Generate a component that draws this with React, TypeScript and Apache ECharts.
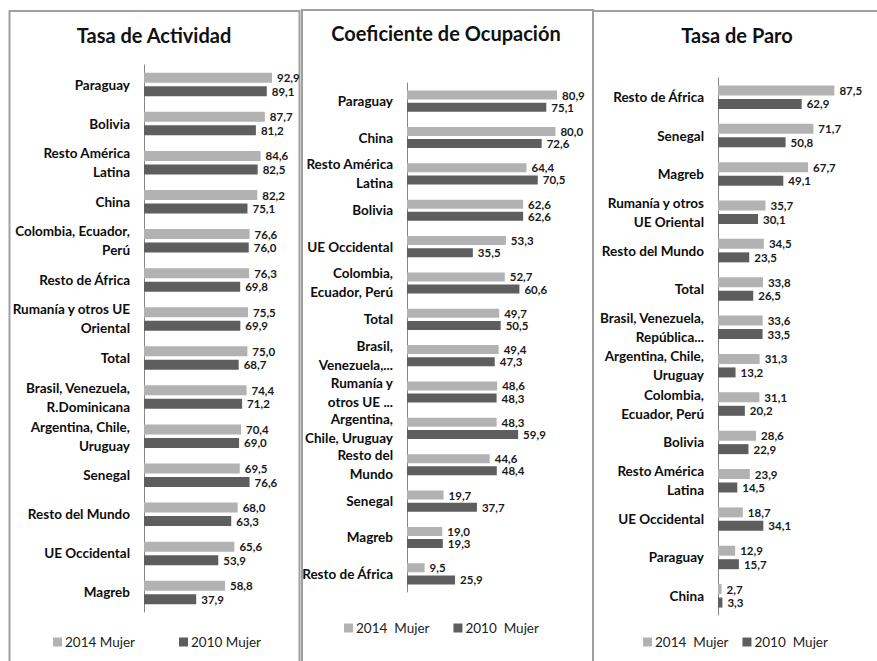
import React, { useEffect, useRef } from "react";
import * as echarts from "echarts";

const titles = ["Tasa de Actividad", "Coeficiente de Ocupación", "Tasa de Paro"];

const catsActividad = [
  "Paraguay", "Bolivia", "Resto América\nLatina", "China", "Colombia, Ecuador,\nPerú",
  "Resto de África", "Rumanía y otros UE\nOriental", "Total", "Brasil, Venezuela,\nR.Dominicana",
  "Argentina, Chile,\nUruguay", "Senegal", "Resto del Mundo", "UE Occidental", "Magreb",
];
const act2014 = [92.9, 87.7, 84.6, 82.2, 76.6, 76.3, 75.5, 75.0, 74.4, 70.4, 69.5, 68.0, 65.6, 58.8];
const act2010 = [89.1, 81.2, 82.5, 75.1, 76.0, 69.8, 69.9, 68.7, 71.2, 69.0, 76.6, 63.3, 53.9, 37.9];

const catsOcupacion = [
  "Paraguay", "China", "Resto América\nLatina", "Bolivia", "UE Occidental", "Colombia,\nEcuador, Perú",
  "Total", "Brasil,\nVenezuela,...", "Rumanía y\notros UE ...", "Argentina,\nChile, Uruguay",
  "Resto del\nMundo", "Senegal", "Magreb", "Resto de África",
];
const ocu2014 = [80.9, 80.0, 64.4, 62.6, 53.3, 52.7, 49.7, 49.4, 48.6, 48.3, 44.6, 19.7, 19.0, 9.5];
const ocu2010 = [75.1, 72.6, 70.5, 62.6, 35.5, 60.6, 50.5, 47.3, 48.3, 59.9, 48.4, 37.7, 19.3, 25.9];

const catsParo = [
  "Resto de África", "Senegal", "Magreb", "Rumanía y otros\nUE Oriental", "Resto del Mundo", "Total",
  "Brasil, Venezuela,\nRepública...", "Argentina, Chile,\nUruguay", "Colombia,\nEcuador, Perú", "Bolivia",
  "Resto América\nLatina", "UE Occidental", "Paraguay", "China",
];
const paro2014 = [87.5, 71.7, 67.7, 35.7, 34.5, 33.8, 33.6, 31.3, 31.1, 28.6, 23.9, 18.7, 12.9, 2.7];
const paro2010 = [62.9, 50.8, 49.1, 30.1, 23.5, 26.5, 33.5, 13.2, 20.2, 22.9, 14.5, 34.1, 15.7, 3.3];

const legendA = ["2014 Mujer", "2010 Mujer"];
const legendB = ["2014  Mujer", "2010  Mujer"];

const LIGHT = "#b2b2b2";
const DARK = "#5e5e5e";
const FONT = "Lato, 'Open Sans', sans-serif";

export default function App() {
  const ref = useRef<HTMLDivElement>(null);
  useEffect(() => {
    if (!ref.current) return;
    const chart = echarts.init(ref.current, null, { renderer: "svg" });

    const grids = [
      { left: 144, top: 65, width: 137.8, height: 547 },
      { left: 407, top: 83, width: 185.5, height: 509 },
      { left: 718, top: 78, width: 133, height: 537 },
    ];
    const cats = [catsActividad, catsOcupacion, catsParo];
    const d14 = [act2014, ocu2014, paro2014];
    const d10 = [act2010, ocu2010, paro2010];
    const names = [legendA, legendB, legendB];
    const barW = [10, 9, 10];

    const fmt = (p: any) => Number(p.value).toFixed(1).replace(".", ",");
    const lbl = {
      show: true,
      position: "right",
      distance: 5,
      fontSize: 11.5,
      lineHeight: 12,
      fontWeight: "bold",
      fontFamily: FONT,
      color: "#1a1a1a",
      formatter: fmt,
    };

    const series: any[] = [];
    for (let i = 0; i < 3; i++) {
      series.push({
        type: "bar",
        name: names[i][0],
        xAxisIndex: i,
        yAxisIndex: i,
        data: d14[i],
        barWidth: barW[i],
        barGap: "35%",
        itemStyle: { color: LIGHT },
        label: lbl,
      });
      series.push({
        type: "bar",
        name: names[i][1],
        xAxisIndex: i,
        yAxisIndex: i,
        data: d10[i],
        barWidth: barW[i],
        barGap: "35%",
        itemStyle: { color: DARK },
        label: lbl,
      });
    }

    const borderStyle = { stroke: "#a0a0a0", lineWidth: 2 };
    const line = (pts: number[][]) => ({ type: "polyline", shape: { points: pts }, style: borderStyle, silent: true });

    const titlePos = [[154, 35], [446, 33], [737, 35]];
    const legText = { fontSize: 13.5, fontFamily: FONT, color: "#222", padding: [0, 0, 0, -2] };

    chart.setOption({
      animation: false,
      textStyle: { fontFamily: FONT },
      grid: grids.map((g) => ({ ...g, containLabel: false })),
      xAxis: grids.map((_, i) => ({
        type: "value",
        gridIndex: i,
        min: 0,
        max: 100,
        show: false,
        splitLine: { show: false },
      })),
      yAxis: grids.map((_, i) => ({
        type: "category",
        gridIndex: i,
        inverse: true,
        data: cats[i],
        axisLine: { show: true, lineStyle: { color: "#868686", width: 1 } },
        axisTick: { show: false },
        axisLabel: {
          margin: 14,
          fontSize: 13.5,
          fontWeight: "bold",
          fontFamily: FONT,
          color: "#0d0d0d",
          lineHeight: 19,
          align: "right",
          interval: 0,
        },
      })),
      legend: [
        { data: legendA, left: 48, top: 630, itemWidth: 9, itemHeight: 9, itemGap: 44, icon: "rect",
          textStyle: legText, selectedMode: false },
        { data: legendB, left: 339, top: 616, itemWidth: 9, itemHeight: 9, itemGap: 24, icon: "rect",
          textStyle: legText, selectedMode: false },
        { data: legendB, left: 638, top: 630, itemWidth: 9, itemHeight: 9, itemGap: 14, icon: "rect",
          textStyle: legText, selectedMode: false },
      ],
      graphic: [
        line([[9.5, 661], [9.5, 11], [299.5, 11], [299.5, 661]]),
        line([[302, 661], [302, 10], [593, 10], [593, 661]]),
        line([[593, 11], [877, 11]]),
        ...titles.map((t, i) => ({
          type: "text",
          x: titlePos[i][0],
          y: titlePos[i][1],
          style: {
            text: t,
            fontSize: 20,
            fontWeight: "bold",
            fontFamily: FONT,
            fill: "#111",
            textAlign: "center",
            textVerticalAlign: "middle",
          },
        })),
      ],
      series,
    });
    return () => chart.dispose();
  }, []);
  return (
    <div
      ref={ref}
      style={{ position: "fixed", left: 0, top: 0, width: 877, height: 661, background: "#fff" }}
    />
  );
}
